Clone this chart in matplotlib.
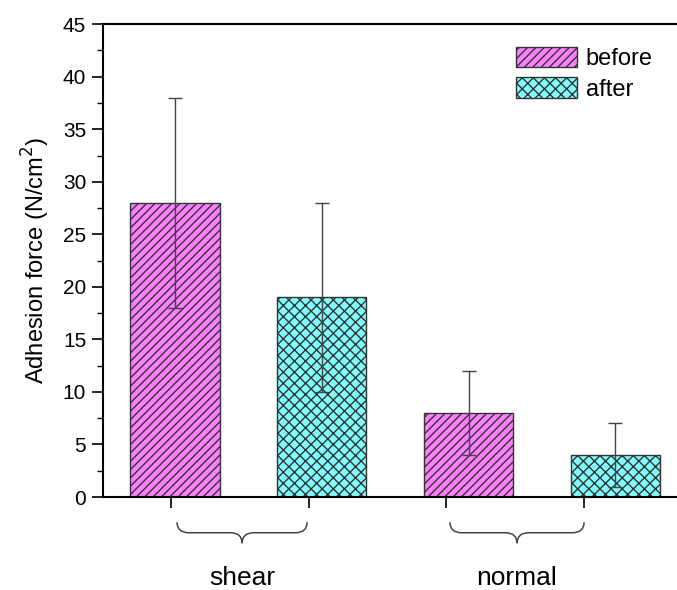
import matplotlib
matplotlib.use("Agg")
import matplotlib.pyplot as plt
from matplotlib.path import Path
from matplotlib.patches import PathPatch, Patch
from matplotlib.ticker import MultipleLocator

plt.rcParams["font.family"] = ["Liberation Sans", "DejaVu Sans"]
plt.rcParams["hatch.linewidth"] = 1.0

# data
modes = ["shear", "normal"]
series = ["before", "after"]
before_vals = [28, 8]
before_err = [10, 4]
after_vals = [19, 4]
after_err = [9, 3]

colors = {"before": "#FF80FF", "after": "#80FFFF"}
hatches = {"before": "////", "after": "xxx"}

# bar centers (shear-before, shear-after, normal-before, normal-after)
bar_x = [1, 2, 3, 4]
tick_x = [0.973, 1.913, 2.847, 3.788]
width = 0.607

fig = plt.figure(figsize=(6.77, 5.90), dpi=100)
ax = fig.add_axes([0.152, 0.1576, 0.848, 0.8014])

vals = [before_vals[0], after_vals[0], before_vals[1], after_vals[1]]
errs = [before_err[0], after_err[0], before_err[1], after_err[1]]
kinds = ["before", "after", "before", "after"]

for x, v, e, k in zip(bar_x, vals, errs, kinds):
    ax.bar(x, v, width, color=colors[k], edgecolor="#333333", hatch=hatches[k],
           linewidth=1.0, zorder=2)
    ax.errorbar(x, v, yerr=e, fmt="none", ecolor="#444444", elinewidth=1.0,
                capsize=5, capthick=1.0, zorder=3)

ax.set_xlim(0.509, 4.42)
ax.set_ylim(0, 45)
ax.yaxis.set_major_locator(MultipleLocator(5))
ax.yaxis.set_minor_locator(MultipleLocator(2.5))
ax.set_xticks(tick_x)
ax.set_xticklabels([])
ax.tick_params(axis="y", which="major", direction="out", length=8, width=1.2,
               labelsize=15, pad=4)
ax.tick_params(axis="y", which="minor", direction="out", length=4, width=1.0)
ax.tick_params(axis="x", which="major", direction="out", length=8, width=1.2)
ax.spines["right"].set_visible(False)
for s in ["left", "bottom", "top"]:
    ax.spines[s].set_linewidth(1.5)
ax.set_ylabel("Adhesion force (N/cm$^2$)", fontsize=17, labelpad=8)


def brace(x0, x1, top, bot, r=0.08):
    mid = (top + bot) / 2
    xc = (x0 + x1) / 2
    verts = [
        (x0, top), (x0, mid), (x0 + r, mid),
        (xc - r, mid),
        (xc, mid), (xc, bot),
        (xc, mid), (xc + r, mid),
        (x1 - r, mid),
        (x1, mid), (x1, top),
    ]
    codes = [Path.MOVETO, Path.CURVE3, Path.CURVE3, Path.LINETO,
             Path.CURVE3, Path.CURVE3, Path.CURVE3, Path.CURVE3,
             Path.LINETO, Path.CURVE3, Path.CURVE3]
    p = PathPatch(Path(verts, codes), fill=False, edgecolor="#444444",
                  linewidth=1.1, clip_on=False)
    ax.add_patch(p)


brace_spans = [(1.014, 1.900), (2.873, 3.787)]
for (x0, x1), name in zip(brace_spans, modes):
    brace(x0, x1, -2.4, -4.4)
    ax.text((x0 + x1) / 2, -7.7, name, ha="center", va="center", fontsize=19,
            clip_on=False)

handles = [Patch(facecolor=colors[s], edgecolor="#333333", hatch=hatches[s],
                 label=s) for s in series]
ax.legend(handles=handles, loc="upper left", bbox_to_anchor=(0.703, 0.972),
          frameon=False, fontsize=17, handlelength=2.6, handleheight=0.95,
          handletextpad=0.35, labelspacing=0.3, borderaxespad=0)

fig.savefig("out.png", dpi=100)
